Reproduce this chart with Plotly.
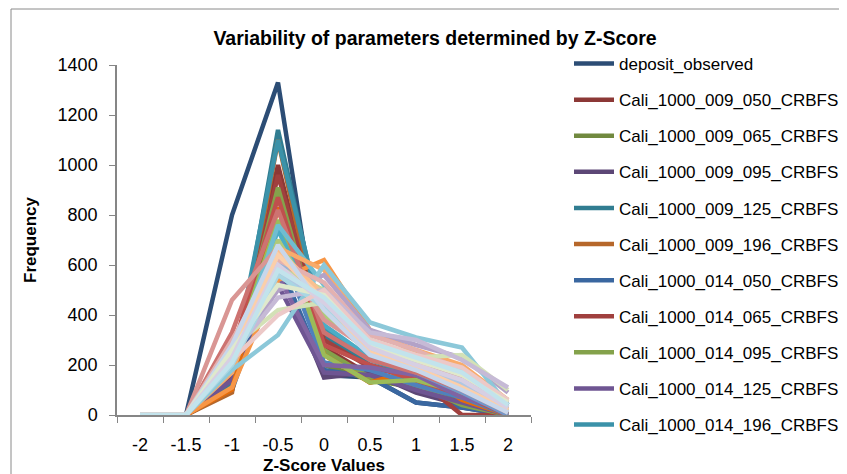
import plotly.graph_objects as go

categories = ["-2", "-1.5", "-1", "-0.5", "0", "0.5", "1", "1.5", "2"]

series_names = [
    "deposit_observed",
    "Cali_1000_009_050_CRBFS", "Cali_1000_009_065_CRBFS", "Cali_1000_009_095_CRBFS",
    "Cali_1000_009_125_CRBFS", "Cali_1000_009_196_CRBFS",
    "Cali_1000_014_050_CRBFS", "Cali_1000_014_065_CRBFS", "Cali_1000_014_095_CRBFS",
    "Cali_1000_014_125_CRBFS", "Cali_1000_014_196_CRBFS",
    "Cali_1000_019_050_CRBFS", "Cali_1000_019_065_CRBFS", "Cali_1000_019_095_CRBFS",
    "Cali_1000_019_125_CRBFS", "Cali_1000_019_196_CRBFS",
    "Cali_1000_024_050_CRBFS", "Cali_1000_024_065_CRBFS", "Cali_1000_024_095_CRBFS",
    "Cali_1000_024_125_CRBFS", "Cali_1000_024_196_CRBFS",
    "Cali_1000_029_050_CRBFS", "Cali_1000_029_065_CRBFS", "Cali_1000_029_095_CRBFS",
    "Cali_1000_029_125_CRBFS", "Cali_1000_029_196_CRBFS",
    "Cali_1000_034_050_CRBFS", "Cali_1000_034_065_CRBFS", "Cali_1000_034_095_CRBFS",
    "Cali_1000_034_125_CRBFS", "Cali_1000_034_196_CRBFS",
    "Cali_1000_039_050_CRBFS", "Cali_1000_039_065_CRBFS", "Cali_1000_039_095_CRBFS",
    "Cali_1000_039_125_CRBFS", "Cali_1000_039_196_CRBFS",
    "Cali_1000_044_050_CRBFS", "Cali_1000_044_065_CRBFS", "Cali_1000_044_095_CRBFS",
    "Cali_1000_044_125_CRBFS", "Cali_1000_044_196_CRBFS",
]

series_values = [
    [0, 0, 800, 1330, 160, 150, 50, 30, 0],
    [0, 0, 180, 1000, 270, 160, 130, 60, 0],
    [0, 0, 150, 880, 200, 140, 110, 50, 0],
    [0, 0, 130, 600, 150, 170, 90, 40, 0],
    [0, 0, 120, 1140, 320, 200, 150, 80, 10],
    [0, 0, 90, 1100, 260, 130, 170, 70, 20],
    [0, 0, 100, 620, 180, 150, 50, 30, 0],
    [0, 0, 160, 960, 300, 190, 150, 0, 0],
    [0, 0, 200, 910, 260, 150, 120, 40, 0],
    [0, 0, 140, 520, 170, 160, 100, 50, 0],
    [0, 0, 180, 1100, 350, 220, 160, 90, 30],
    [0, 0, 100, 830, 240, 130, 180, 60, 0],
    [0, 0, 170, 700, 210, 180, 120, 70, 0],
    [0, 0, 250, 870, 280, 200, 140, 80, 0],
    [0, 0, 220, 780, 240, 130, 140, 90, 10],
    [0, 0, 200, 560, 200, 190, 160, 70, 20],
    [0, 0, 210, 740, 360, 230, 180, 100, 20],
    [0, 0, 110, 540, 620, 340, 250, 150, 50],
    [0, 0, 190, 650, 420, 260, 170, 90, 0],
    [0, 0, 330, 820, 330, 220, 170, 100, 10],
    [0, 0, 240, 700, 400, 250, 180, 120, 20],
    [0, 0, 210, 620, 460, 280, 230, 180, 40],
    [0, 0, 200, 760, 520, 300, 230, 170, 50],
    [0, 0, 170, 670, 580, 330, 260, 200, 60],
    [0, 0, 220, 610, 470, 290, 210, 140, 30],
    [0, 0, 460, 670, 380, 260, 200, 150, 40],
    [0, 0, 280, 590, 500, 300, 240, 170, 60],
    [0, 0, 250, 500, 560, 340, 280, 230, 90],
    [0, 0, 180, 320, 600, 370, 310, 270, 40],
    [0, 0, 230, 660, 480, 280, 210, 120, 20],
    [0, 0, 260, 580, 440, 260, 200, 130, 10],
    [0, 0, 300, 620, 530, 320, 260, 180, 50],
    [0, 0, 270, 420, 450, 290, 230, 240, 100],
    [0, 0, 240, 470, 500, 330, 300, 220, 110],
    [0, 0, 200, 560, 430, 260, 220, 180, 30],
    [0, 0, 250, 640, 460, 250, 190, 110, 20],
    [0, 0, 280, 680, 420, 240, 180, 100, 10],
    [0, 0, 220, 400, 500, 300, 240, 190, 60],
    [0, 0, 260, 520, 480, 280, 220, 160, 50],
    [0, 0, 230, 600, 450, 270, 200, 140, 30],
    [0, 0, 210, 580, 470, 290, 230, 170, 40],
]

# colour shades per accent (darkest -> palest), Excel-like
blue = ["#2C4D75", "#3A67A0", "#4F81BD", "#7297C9", "#95B3D7", "#B0C7E2", "#C8D7EB"]
red = ["#8C3836", "#A0403E", "#C0504D", "#CD7371", "#D99694", "#E3B1B0", "#ECC9C8"]
green = ["#71893F", "#84A24B", "#9BBB59", "#AFC97A", "#C3D69B", "#D3E1B6", "#DFE9CC"]
purple = ["#5C4776", "#6E5592", "#8064A2", "#9983B5", "#B3A2C7", "#C6BAD6", "#D7CFE3"]
teal = ["#317D91", "#3B92A9", "#4BACC6", "#6FBDD1", "#8CC8D9", "#A9D6E3", "#C2E3EC"]
orange = ["#B6672A", "#E46C0A", "#F79646", "#F9AB6B", "#FAC090", "#FBCFAA", "#FCDDC3"]
accents = [blue, red, green, purple, teal, orange]

FONT = "Liberation Sans, Arial, sans-serif"
AXIS_GREY = "#868686"

# The page body adds an 8px offset; layout below is in div pixels.
W, H = 839, 466
L, T, PW, PH = 109, 57, 414, 350

fig = go.Figure()
for i, (name, vals) in enumerate(zip(series_names, series_values)):
    color = accents[i % 6][i // 6]
    fig.add_trace(go.Scatter(
        x=categories, y=vals, name=name, mode="lines",
        line=dict(color=color, width=4.5),
        showlegend=i < 11, legendgroup=name,
    ))

fig.update_layout(
    width=W, height=H,
    margin=dict(l=L, r=W - L - PW, t=T, b=H - T - PH, pad=0),
    paper_bgcolor="white", plot_bgcolor="white",
    font=dict(family=FONT, size=17, color="#000000"),
    title=dict(text="<b>Variability of parameters determined by Z-Score</b>",
               x=427 / W, xanchor="center", y=1 - 30 / H, yanchor="middle",
               font=dict(size=19.5, family=FONT, color="#000000")),
    showlegend=True,
    legend=dict(xref="container", yref="container", x=561 / W, y=1 - 38 / H,
                xanchor="left", yanchor="top", font=dict(size=17, family=FONT),
                tracegroupgap=11, itemwidth=40, maxheight=460,
                bgcolor="rgba(0,0,0,0)"),
    xaxis=dict(type="category", range=[-0.5, 8.5], tickson="boundaries",
               ticks="outside", ticklen=6, tickcolor=AXIS_GREY, showline=True,
               linecolor=AXIS_GREY, linewidth=1.5, showgrid=False, zeroline=False,
               ticklabelstandoff=13, tickfont=dict(size=18)),
    yaxis=dict(range=[0, 1400], tickvals=[0, 200, 400, 600, 800, 1000, 1200, 1400],
               ticks="outside", ticklen=6, tickcolor=AXIS_GREY, showline=True,
               linecolor=AXIS_GREY, linewidth=1.5, showgrid=False, zeroline=False,
               ticklabelstandoff=8, tickfont=dict(size=18)),
    annotations=[
        dict(text="<b>Frequency</b>", xref="paper", yref="paper", x=(30 - 117) / PW, y=0.5,
             textangle=-90, showarrow=False, xanchor="center", yanchor="middle",
             font=dict(size=17)),
        dict(text="<b>Z-Score Values</b>", xref="paper", yref="paper", x=0.5,
             y=(415 - 465) / PH, showarrow=False, xanchor="center", yanchor="middle",
             font=dict(size=17)),
    ],
    shapes=[
        dict(type="line", xref="paper", yref="paper", x0=(11 - 117) / PW, x1=2.0,
             y0=(415 - 9) / PH, y1=(415 - 9) / PH, line=dict(color="#8A8A8A", width=1)),
        dict(type="line", xref="paper", yref="paper", x0=(11 - 117) / PW, x1=(11 - 117) / PW,
             y0=-1.0, y1=(415 - 9) / PH, line=dict(color="#8A8A8A", width=1)),
    ],
)

fig.write_html("out.html")
